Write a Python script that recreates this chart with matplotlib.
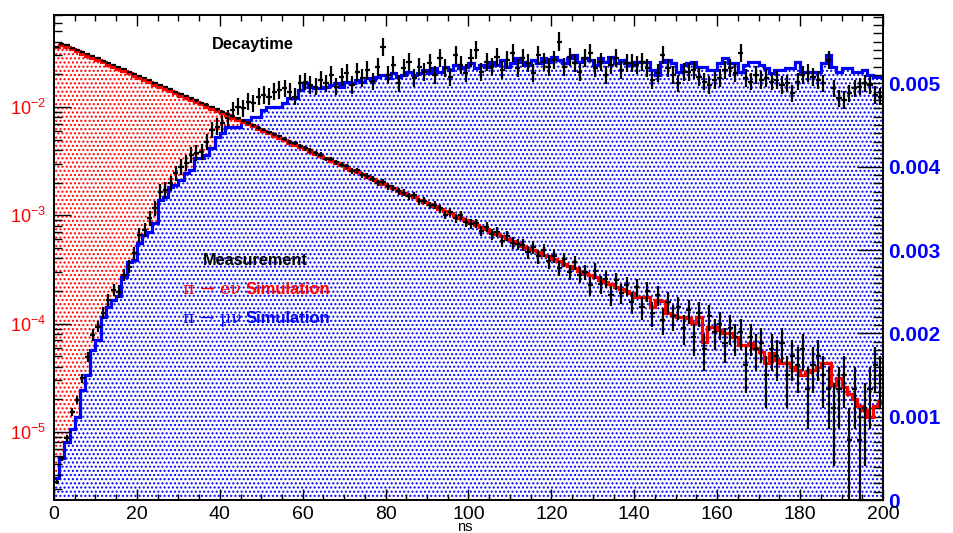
import numpy as np
import matplotlib
matplotlib.use("Agg")
import matplotlib.pyplot as plt
from matplotlib.ticker import LogLocator, MultipleLocator, NullFormatter

plt.rcParams['font.family'] = ['Liberation Sans', 'DejaVu Sans']
plt.rcParams['mathtext.default'] = 'regular'
plt.rcParams['hatch.linewidth'] = 1.0

# binning: 160 bins of 1.25 ns from 0 to 200 ns
t_min, t_max, n_bins = 0.0, 200.0, 160

# pi -> e nu : simulation (expected counts per bin) and measured counts
e_norm = 1.2e5
red_sim = [
    4295, 4508, 4301, 4104, 3915, 3736, 3564, 3401, 3245, 3096,
    2954, 2818, 2689, 2565, 2448, 2335, 2228, 2126, 2028, 1935,
    1846, 1762, 1681, 1604, 1530, 1460, 1393, 1329, 1268, 1210,
    1154, 1101, 1051, 1003, 957, 913, 871, 831, 793, 755,
    719, 685, 653, 622, 592, 564, 538, 512, 488, 465,
    443, 422, 402, 383, 364, 347, 331, 315, 300, 286,
    272, 259, 247, 235, 224, 214, 203, 194, 185, 176,
    167, 160, 152, 145, 138, 131, 125, 119, 113, 108,
    103, 98, 93, 89, 85, 81, 77, 73, 70, 66,
    63, 60, 57, 55, 52, 50, 47, 45, 43, 41,
    39, 37, 35, 34, 32, 30, 29, 28, 26, 25,
    24, 23.0, 21.1, 21.1, 21.1, 17.1, 19.8, 19.5, 15.0, 14.4,
    13.8, 13.8, 13.5, 12.2, 13.8, 8.1, 11.2, 11.2, 10.5, 9.8,
    9.8, 9.0, 7.6, 7.6, 7.9, 7.1, 6.6, 5.2, 6.4, 5.5,
    5.2, 5.2, 4.8, 4.5, 4.0, 4.3, 4.5, 4.8, 5.2, 5.2,
    3.25, 3.8, 3.1, 2.7, 2.4, 2.1, 1.9, 1.65, 2.1, 2.3,
]
e_counts = [
    4310, 4590, 4480, 4250, 4060, 3880, 3720, 3540, 3390, 3210,
    3070, 2930, 2800, 2670, 2550, 2430, 2320, 2200, 2120, 2010,
    1920, 1830, 1750, 1660, 1590, 1520, 1440, 1380, 1310, 1260,
    1200, 1140, 1090, 1030, 990, 940, 900, 855, 815, 770,
    742, 698, 671, 641, 603, 575, 554, 521, 497, 476,
    449, 436, 398, 398, 371, 352, 339, 309, 311, 282,
    279, 261, 240, 245, 222, 216, 199, 194, 181, 183,
    162, 164, 148, 149, 139, 121, 129, 113, 120, 104,
    100, 101, 86, 94, 80, 85, 70, 78, 67, 65,
    64, 55, 61, 50, 57, 45, 51, 39, 47, 36,
    44, 34, 36, 27, 37, 28, 31, 22, 30, 23,
    27, 19, 26, 17, 24, 15, 22, 13, 19, 14,
    17, 11, 16, 9, 15, 7, 14, 10, 12, 8,
    11, 9, 10, 5, 9, 7, 8, 4, 7, 6,
    8, 4, 6, 5, 7, 3, 5, 6, 4, 3,
    2, 3, 4, 1, 3, 1, 2, 3, 5, 4,
]

# pi -> mu nu : simulation and measurement, in units of 1e-3
mu_norm = 4.5e5
blue_sim = [
    0.26, 0.50, 0.70, 0.85, 1.00, 1.32, 1.50, 1.80, 1.92, 2.20,
    2.32, 2.40, 2.45, 2.68, 2.86, 2.88, 3.08, 3.18, 3.22, 3.32,
    3.60, 3.64, 3.76, 3.78, 3.84, 3.92, 3.96, 4.10, 4.10, 4.14,
    4.22, 4.36, 4.40, 4.48, 4.48, 4.48, 4.56, 4.56, 4.60, 4.60,
    4.68, 4.72, 4.72, 4.72, 4.76, 4.82, 4.82, 4.92, 5.00, 4.96,
    4.94, 4.94, 4.96, 4.98, 5.00, 4.96, 5.02, 5.00, 5.04, 5.02,
    5.06, 5.04, 5.08, 5.10, 5.06, 5.12, 5.08, 5.10, 5.14, 5.10,
    5.12, 5.16, 5.12, 5.18, 5.14, 5.20, 5.16, 5.22, 5.18, 5.20,
    5.24, 5.18, 5.22, 5.20, 5.26, 5.22, 5.28, 5.20, 5.24, 5.30,
    5.26, 5.22, 5.28, 5.24, 5.30, 5.26, 5.32, 5.28, 5.24, 5.30,
    5.34, 5.26, 5.30, 5.28, 5.22, 5.30, 5.26, 5.32, 5.24, 5.28,
    5.24, 5.22, 5.26, 5.26, 5.26, 5.16, 5.10, 5.26, 5.28, 5.24,
    5.14, 5.22, 5.24, 5.26, 5.20, 5.20, 5.16, 5.16, 5.24, 5.30,
    5.24, 5.24, 5.14, 5.22, 5.26, 5.26, 5.22, 5.18, 5.12, 5.16,
    5.16, 5.18, 5.18, 5.26, 5.14, 5.14, 5.14, 5.14, 5.24, 5.34,
    5.20, 5.14, 5.18, 5.18, 5.14, 5.14, 5.16, 5.10, 5.08, 5.08,
]
mu_meas = [
    0.22, 0.50, 0.74, 1.06, 1.20, 1.46, 1.72, 1.98, 2.08, 2.24,
    2.40, 2.52, 2.50, 2.70, 2.80, 2.96, 3.18, 3.24, 3.38, 3.50,
    3.70, 3.72, 3.80, 3.92, 4.00, 4.04, 4.14, 4.16, 4.18, 4.30,
    4.44, 4.48, 4.52, 4.58, 4.68, 4.72, 4.70, 4.78, 4.76, 4.84,
    4.86, 4.84, 4.90, 4.92, 4.94, 4.90, 4.84, 5.00, 5.02, 4.98,
    4.96, 5.04, 5.00, 5.10, 4.96, 5.08, 5.12, 4.98, 5.14, 5.06,
    5.16, 5.02, 5.20, 5.44, 5.10, 5.22, 5.00, 5.18, 5.26, 5.06,
    5.20, 5.14, 5.24, 5.10, 5.30, 5.18, 5.08, 5.34, 5.22, 5.12,
    5.30, 5.40, 5.14, 5.26, 5.20, 5.32, 5.16, 5.28, 5.36, 5.18,
    5.30, 5.24, 5.12, 5.34, 5.26, 5.20, 5.28, 5.50, 5.20, 5.32,
    5.24, 5.14, 5.30, 5.36, 5.18, 5.26, 5.10, 5.22, 5.30, 5.16,
    5.24, 5.24, 5.22, 5.26, 5.18, 5.04, 5.12, 5.34, 5.18, 5.10,
    5.00, 5.14, 5.14, 5.16, 5.08, 5.02, 4.98, 5.04, 5.06, 5.16,
    5.18, 5.12, 5.36, 5.06, 5.02, 5.10, 5.04, 5.06, 5.02, 5.04,
    4.98, 5.00, 4.88, 5.02, 5.10, 5.12, 5.08, 5.04, 5.00, 5.28,
    4.94, 4.82, 4.80, 4.88, 4.94, 4.96, 5.00, 4.98, 4.86, 4.84,
]

x_ticks = [0, 20, 40, 60, 80, 100, 120, 140, 160, 180, 200]
right_ticks = [0, 0.001, 0.002, 0.003, 0.004, 0.005]

edges = np.linspace(t_min, t_max, n_bins + 1)
centers = 0.5 * (edges[:-1] + edges[1:])
half = 0.5 * (edges[1] - edges[0])

red = np.array(red_sim) / e_norm
e_n = np.array(e_counts, dtype=float)
e_val = e_n / e_norm
e_err = np.sqrt(e_n) / e_norm
e_lo = np.minimum(e_err, e_val - 1e-12)

blue = np.array(blue_sim) * 1e-3
mu = np.array(mu_meas) * 1e-3
mu_err = np.sqrt(mu * mu_norm) / mu_norm

fig = plt.figure(figsize=(9.54, 5.33), dpi=100)
rect = [54 / 954, 33 / 533, 829 / 954, 485 / 533]
ylog = (2.35e-6, 7.07e-2)

# bottom layer: red dotted fill
ax_bg = fig.add_axes(rect, label='bg')
ax_bg.set_yscale('log')
ax_bg.set_xlim(t_min, t_max)
ax_bg.set_ylim(*ylog)
ax_bg.fill_between(edges, np.append(red, red[-1]), 1e-9, step='post',
                   facecolor='white', edgecolor='red', hatch='....', lw=0)
ax_bg.axis('off')

# middle layer: blue simulation + mu measurement (linear, right axis)
ax2 = fig.add_axes(rect, label='mu', sharex=ax_bg)
ax2.patch.set_visible(False)
ax2.set_ylim(0, 0.00582)
ax2.fill_between(edges, np.append(blue, blue[-1]), 0, step='post',
                 facecolor='white', edgecolor='blue', hatch='....', lw=0)
ax2.stairs(blue, edges, baseline=None, color='blue', lw=2.3)
ax2.errorbar(centers, mu, yerr=mu_err, xerr=half, fmt='none',
             ecolor='black', elinewidth=1.6, capsize=0)
ax2.yaxis.tick_right()
ax2.set_yticks(right_ticks)
ax2.set_yticklabels(['0', '0.001', '0.002', '0.003', '0.004', '0.005'],
                    color='blue', fontsize=15, fontweight='bold')
ax2.yaxis.set_minor_locator(MultipleLocator(0.0001))
ax2.tick_params(axis='y', which='major', direction='in', length=19, width=1.0, pad=4)
ax2.tick_params(axis='y', which='minor', direction='in', length=7, width=1.0)
ax2.tick_params(axis='x', which='both', bottom=False, top=False, labelbottom=False)
for s in ax2.spines.values():
    s.set_visible(False)

# top layer: red simulation line, e measurement, frame and left/x axes
ax = fig.add_axes(rect, label='e', sharex=ax_bg)
ax.patch.set_visible(False)
ax.set_yscale('log')
ax.set_ylim(*ylog)
ax.stairs(red, edges, baseline=None, color='red', lw=2.3)
ax.errorbar(centers, e_val, yerr=[e_lo, e_err], xerr=half, fmt='none',
            ecolor='black', elinewidth=1.6, capsize=0)

ax.yaxis.set_major_locator(LogLocator(base=10, numticks=10))
ax.yaxis.set_minor_locator(LogLocator(base=10, subs=np.arange(2, 10), numticks=20))
ax.yaxis.set_minor_formatter(NullFormatter())
ax.tick_params(axis='y', which='major', direction='in', length=12, width=1.0,
               labelsize=13, labelcolor='red', right=False, pad=6)
ax.tick_params(axis='y', which='minor', direction='in', length=6, width=1.0, right=False)

ax.set_xticks(x_ticks)
ax.xaxis.set_minor_locator(MultipleLocator(5))
ax.tick_params(axis='x', which='major', direction='in', length=8, width=1.0,
               labelsize=14, top=True, pad=4)
ax.tick_params(axis='x', which='minor', direction='in', length=4, width=1.0, top=True)
for s in ax.spines.values():
    s.set_linewidth(1.4)

fig.text(465 / 954, 2 / 533, 'ns', ha='center', va='baseline', fontsize=10.5)

# title and legend-like labels
ax.text(0.2394, 0.940, 'Decaytime', transform=ax.transAxes, ha='center',
        va='center', fontsize=11.8, fontweight='bold')
ax.text(0.2425, 0.4928, 'Measurement', transform=ax.transAxes, ha='center',
        va='center', fontsize=11.7, fontweight='bold', color='black')
serif = ['DejaVu Serif', 'Liberation Serif']
ax.text(0.1556, 0.433, 'π → eν', transform=ax.transAxes, ha='left',
        va='center', fontsize=12.5, color='red', family=serif)
ax.text(0.2316, 0.433, 'Simulation', transform=ax.transAxes, ha='left',
        va='center', fontsize=12, fontweight='bold', color='red')
ax.text(0.1556, 0.375, 'π → μν', transform=ax.transAxes, ha='left',
        va='center', fontsize=12.5, color='blue', family=serif)
ax.text(0.2316, 0.375, 'Simulation', transform=ax.transAxes, ha='left',
        va='center', fontsize=12, fontweight='bold', color='blue')

fig.savefig('out.png', dpi=100)
